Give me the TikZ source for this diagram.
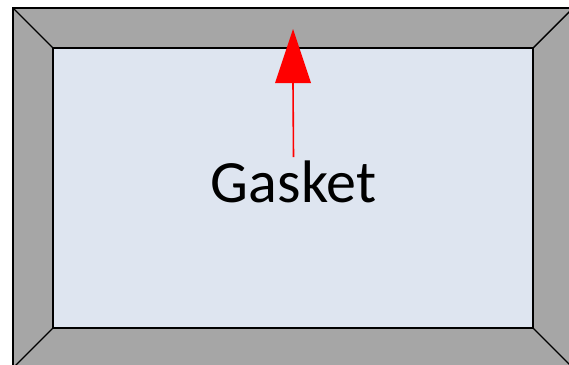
\documentclass[tikz,border=0pt]{standalone}
\usepackage{fontspec}
\setmainfont{Carlito}
\definecolor{bandgray}{HTML}{A6A6A6}
\definecolor{panel}{HTML}{DEE5F0}
\begin{document}
\begin{tikzpicture}[x=1pt,y=-1pt,
  frame/.style={draw=black,line width=1.4pt,line join=miter},
  arrowline/.style={draw=red,line width=1.6pt},
  arrowhead/.style={fill=red,draw=none}]
\useasboundingbox (0,0) rectangle (569,364);
\begin{scope}
\clip (0,0) rectangle (569,364);
\coordinate (o1) at (13,8);
\coordinate (o2) at (573,8);
\coordinate (o3) at (573,368);
\coordinate (o4) at (13,368);
\coordinate (i1) at (53,48);
\coordinate (i2) at (533,48);
\coordinate (i3) at (533,328);
\coordinate (i4) at (53,328);
\fill[bandgray] (o1) -- (o2) -- (o3) -- (o4) -- cycle;
\draw[frame] (o1) -- (o2) -- (o3) -- (o4) -- cycle;
\draw[frame,fill=panel] (i1) -- (i2) -- (i3) -- (i4) -- cycle;
\draw[frame] (o1) -- (i1) (o2) -- (i2) (o3) -- (i3) (o4) -- (i4);
\end{scope}
\node[anchor=base,inner sep=0pt,font=\fontsize{60}{72}\selectfont] (gasket) at (293.5,202) {Gasket};
\coordinate (tip) at (293,29);
\coordinate (hbase) at (293,83);
\fill[arrowhead] (tip) -- ([xshift=-18pt]hbase) -- ([xshift=18pt]hbase) -- cycle;
\draw[arrowline] ([yshift=3pt]gasket.north) -- (hbase);
\end{tikzpicture}
\end{document}
